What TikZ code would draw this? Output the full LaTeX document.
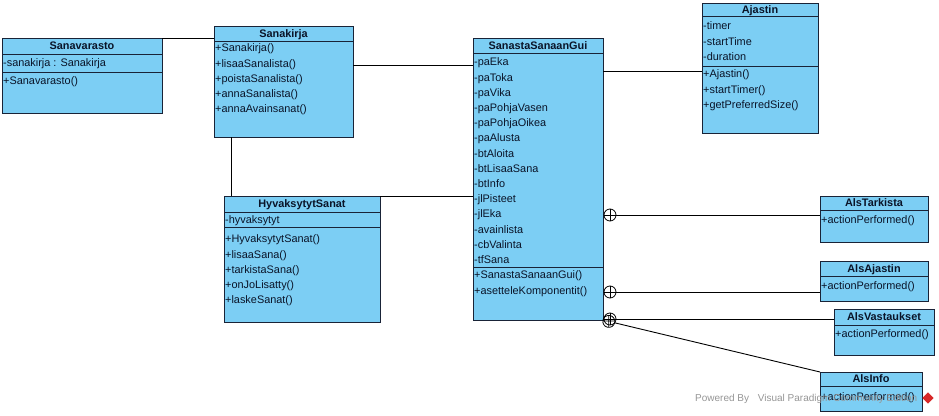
\documentclass[tikz,border=0pt]{standalone}
\usepackage{fontspec}
\setmainfont{Liberation Sans}
\definecolor{classfill}{RGB}{124,206,244}
\definecolor{classline}{RGB}{25,35,55}
\definecolor{txt}{RGB}{10,20,40}
\definecolor{wm}{RGB}{150,150,150}
\definecolor{logo}{RGB}{215,40,40}
\tikzset{
  classbox/.style={draw=classline, fill=classfill, line width=0.9pt, inner sep=0pt, outer sep=0pt, anchor=north west},
  ctitle/.style={font=\fontsize{10.9}{13}\selectfont\bfseries, text=txt, inner sep=0pt, text height=8pt, text depth=2.5pt, yshift=-1pt},
  mem/.style={font=\fontsize{10.9}{13}\selectfont, text=txt, inner sep=0pt, anchor=west, text height=8pt, text depth=2.5pt, yshift=-1.2pt},
  sepline/.style={draw=classline, line width=0.9pt},
  conn/.style={draw=black, line width=0.9pt},
  contain/.style={circle, draw=black, line width=0.8pt, minimum size=12pt, inner sep=0pt, outer sep=0pt,
    path picture={\draw[line width=0.8pt] (path picture bounding box.north) -- (path picture bounding box.south)
      (path picture bounding box.west) -- (path picture bounding box.east);}},
  wmtext/.style={font=\fontsize{10}{12}\selectfont, text=wm, inner sep=0pt, anchor=west}
}
\newcommand{\members}[4]{%
  \foreach \mtxt [count=\mi] in {#4} \node[mem] (#1-\mi) at (#2, {#3+15.2*(\mi-1)}) {\mtxt};}
\begin{document}
\begin{tikzpicture}[x=1pt,y=-1pt]
\useasboundingbox[fill=white] (0,0) rectangle (939,415);

% Sanavarasto
\node[classbox, minimum width=160pt, minimum height=75pt] (sv) at (2,38) {};
\node[ctitle] (sv-t) at (82,46) {Sanavarasto};
\draw[sepline] (2,54) -- (162,54);
\draw[sepline] (2,72) -- (162,72);
\members{sva}{3}{63}{-sanakirja : Sanakirja}
\members{svm}{3}{81}{+Sanavarasto()}

% Sanakirja
\node[classbox, minimum width=139pt, minimum height=111pt] (skj) at (214,26) {};
\node[ctitle] (skj-t) at (283.5,34) {Sanakirja};
\draw[sepline] (214,41) -- (353,41);
\members{skjm}{215}{48}{+Sanakirja(),+lisaaSanalista(),+poistaSanalista(),+annaSanalista(),+annaAvainsanat()}

% SanastaSanaanGui
\node[classbox, minimum width=130pt, minimum height=282pt] (ssg) at (473,38) {};
\node[ctitle] (ssg-t) at (538,46) {SanastaSanaanGui};
\draw[sepline] (473,53) -- (603,53);
\draw[sepline] (473,267) -- (603,267);
\members{ssga}{474}{62}{-paEka,-paToka,-paVika,-paPohjaVasen,-paPohjaOikea,-paAlusta,-btAloita,-btLisaaSana,-btInfo,-jlPisteet,-jlEka,-avainlista,-cbValinta,-tfSana}
\members{ssgm}{474}{275}{+SanastaSanaanGui(),+asetteleKomponentit()}

% Ajastin
\node[classbox, minimum width=116pt, minimum height=130pt] (aj) at (702,3) {};
\node[ctitle] (aj-t) at (760,10) {Ajastin};
\draw[sepline] (702,16) -- (818,16);
\draw[sepline] (702,66) -- (818,66);
\members{aja}{703}{26}{-timer,-startTime,-duration}
\members{ajm}{703}{74}{+Ajastin(),+startTimer(),+getPreferredSize()}

% HyvaksytytSanat
\node[classbox, minimum width=156pt, minimum height=126pt] (hyv) at (224,196) {};
\node[ctitle] (hyv-t) at (302,204) {HyvaksytytSanat};
\draw[sepline] (224,212) -- (380,212);
\draw[sepline] (224,227) -- (380,227);
\members{hyva}{225}{219.5}{-hyvaksytyt}
\members{hyvm}{225}{239}{+HyvaksytytSanat(),+lisaaSana(),+tarkistaSana(),+onJoLisatty(),+laskeSanat()}

% AlsTarkista
\node[classbox, minimum width=108pt, minimum height=46pt] (alt) at (820,196) {};
\node[ctitle] (alt-t) at (874,203) {AlsTarkista};
\draw[sepline] (820,210) -- (928,210);
\members{altm}{821}{220}{+actionPerformed()}

% AlsAjastin
\node[classbox, minimum width=108pt, minimum height=40pt] (ala) at (820,261) {};
\node[ctitle] (ala-t) at (874,268.5) {AlsAjastin};
\draw[sepline] (820,276) -- (928,276);
\members{alam}{821}{285.5}{+actionPerformed()}

% AlsVastaukset
\node[classbox, minimum width=100pt, minimum height=46pt] (alv) at (834,309) {};
\node[ctitle] (alv-t) at (884,317) {AlsVastaukset};
\draw[sepline] (834,325) -- (934,325);
\members{alvm}{835}{334}{+actionPerformed()}

% AlsInfo
\node[classbox, minimum width=102pt, minimum height=39pt] (ali) at (820,372) {};
\node[ctitle] (ali-t) at (871,379) {AlsInfo};
\draw[sepline] (820,386) -- (922,386);
\members{alim}{821}{396.5}{+actionPerformed()}

% associations
\draw[conn] (sv.north east) -- (sv.north east -| skj.west);
\draw[conn] (skj.east |- 0,65) -- (ssg.west |- 0,65);
\draw[conn] (skj.south -| 231,0) -- (hyv.north -| 231,0);
\draw[conn] (hyv.north east) -- (hyv.north east -| ssg.west);
\draw[conn] (ssg.east |- 0,71) -- (aj.west |- 0,71);

% containment
\node[contain] (c1) at (610,215) {};
\node[contain] (c2) at (610,292) {};
\node[contain] (c3) at (610,319) {};
\node[contain, rotate=-13.4] (c4) at (608.8,321.4) {};
\draw[conn] (c1.east) -- (alt.west |- c1.east);
\draw[conn] (c2.east) -- (ala.west |- c2.east);
\draw[conn] (c3.east) -- (alv.west |- c3.east);
\draw[conn] (c4) -- (ali.north west);

% watermark
\node[wmtext] (wmk) at (695,398.5) {Powered By \hspace{6pt}Visual Paradigm Community Edition};
\node[fill=logo, minimum size=8pt, inner sep=0pt, rotate=45] (logo) at (928,398) {};
\end{tikzpicture}
\end{document}
